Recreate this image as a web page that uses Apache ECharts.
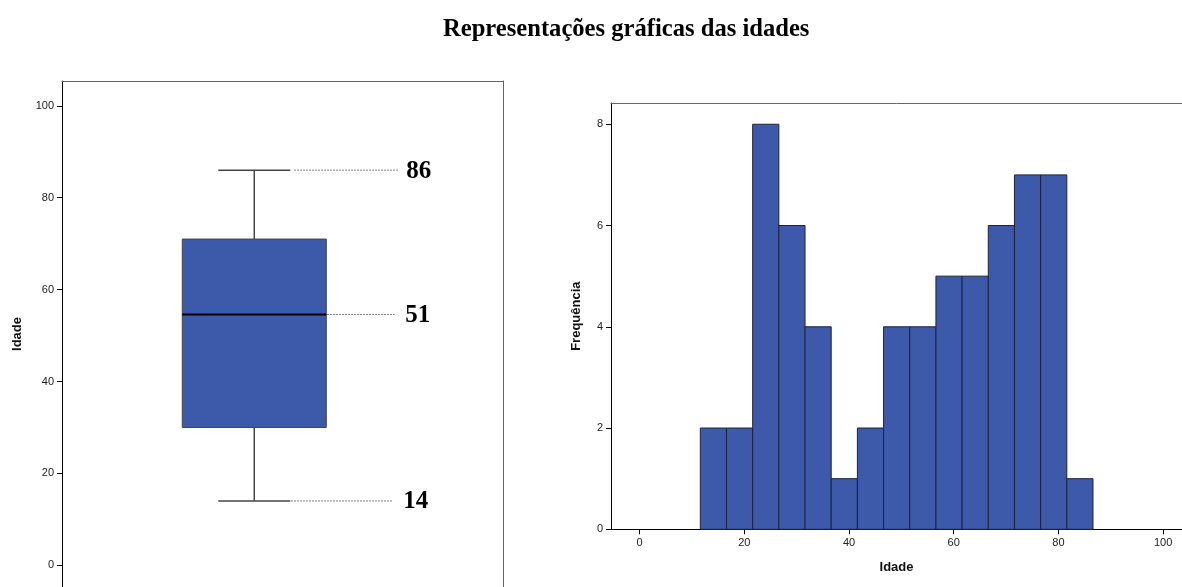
<!DOCTYPE html>
<html>
<head>
<meta charset="utf-8">
<script src="https://cdn.jsdelivr.net/npm/echarts@6/dist/echarts.min.js"></script>
<style>html,body{margin:0;padding:0;background:#fff}#c{width:1182px;height:587px}</style>
</head>
<body>
<div id="c"></div>
<script>
// ---- data ----
const titleText = 'Representações gráficas das idades';
// boxplot: min, Q1, median, Q3, max (as drawn)
const boxStats = [14, 30, 54.6, 71, 86];
const boxLabels = ['86', '51', '14'];
const boxTicks = [0, 20, 40, 60, 80, 100];
// histogram bins
const binStarts = [11.6, 16.6, 21.6, 26.6, 31.6, 36.6, 41.6, 46.6, 51.6, 56.6, 61.6, 66.6, 71.6, 76.6, 81.6];
const binEnds   = [16.6, 21.6, 26.6, 31.6, 36.6, 41.6, 46.6, 51.6, 56.6, 61.6, 66.6, 71.6, 76.6, 81.6, 86.6];
const freqs     = [2, 2, 8, 6, 4, 1, 2, 4, 4, 5, 5, 6, 7, 7, 1];
const histXTicks = [0, 20, 40, 60, 80, 100];
const histYTicks = [0, 2, 4, 6, 8];

const BLUE = '#3d59aa';
const histData = binStarts.map((s, i) => [s, binEnds[i], freqs[i]]);

const chart = echarts.init(document.getElementById('c'), null, {renderer: 'canvas'});
const tickLabel = {fontFamily: 'Liberation Sans, Arial', fontSize: 11, color: '#222'};
const nameStyle = {fontFamily: 'Liberation Sans, Arial', fontSize: 13, fontWeight: 'bold', color: '#111'};
const frameAxis = {axisLine: {show: true, onZero: false, lineStyle: {color: '#666', width: 1}},
                   axisTick: {show: false}, axisLabel: {show: false}, splitLine: {show: false}};

chart.setOption({
  animation: false,
  title: {
    text: titleText, left: 438, top: 12,
    textStyle: {fontFamily: 'Liberation Serif, Times New Roman', fontSize: 24.6, fontWeight: 'bold', color: '#000'}
  },
  grid: [
    {left: 62, top: 81, width: 441, height: 506},
    {left: 611, top: 103, width: 571, height: 426.3}
  ],
  xAxis: [
    Object.assign({gridIndex: 0, type: 'value', min: 0, max: 1, position: 'top'}, frameAxis),
    {gridIndex: 1, type: 'value', min: -5.46, max: 103.6,
     name: 'Idade', nameLocation: 'middle', nameGap: 32, nameTextStyle: nameStyle,
     axisLine: {show: true, onZero: false, lineStyle: {color: '#000', width: 1}},
     axisTick: {show: true, length: 5, customValues: histXTicks, lineStyle: {color: '#000'}},
     axisLabel: Object.assign({customValues: histXTicks, margin: 8}, tickLabel),
     splitLine: {show: false}},
    Object.assign({gridIndex: 1, type: 'value', min: -5.46, max: 103.6, position: 'top'}, frameAxis)
  ],
  yAxis: [
    {gridIndex: 0, type: 'value', min: -4.72, max: 105.4,
     name: 'Idade', nameLocation: 'middle', nameGap: 38, nameRotate: 90, nameTextStyle: nameStyle,
     axisLine: {show: true, onZero: false, lineStyle: {color: '#000', width: 1}},
     axisTick: {show: true, length: 5, customValues: boxTicks, lineStyle: {color: '#000'}},
     axisLabel: Object.assign({customValues: boxTicks, margin: 8}, tickLabel),
     splitLine: {show: false}},
    {gridIndex: 1, type: 'value', min: 0, max: 8.42,
     name: 'Frequência', nameLocation: 'middle', nameGap: 28, nameRotate: 90, nameTextStyle: nameStyle,
     axisLine: {show: true, onZero: false, lineStyle: {color: '#000', width: 1}},
     axisTick: {show: true, length: 5, customValues: histYTicks, lineStyle: {color: '#000'}},
     axisLabel: Object.assign({customValues: histYTicks, margin: 8}, tickLabel),
     splitLine: {show: false}},
    Object.assign({gridIndex: 0, type: 'value', min: -4.72, max: 105.4, position: 'right'}, frameAxis)
  ],
  series: [
    {
      type: 'custom', xAxisIndex: 0, yAxisIndex: 0,
      data: [boxStats],
      renderItem: function (params, api) {
        const cxv = 0.436;
        const cx = api.coord([cxv, 0])[0];
        const y = v => api.coord([cxv, v])[1];
        const yMin = y(api.value(0)), yQ1 = y(api.value(1)), yMed = y(api.value(2)),
              yQ3 = y(api.value(3)), yMax = y(api.value(4));
        const hw = 72, cw = 36;
        const wStyle = {stroke: '#444', lineWidth: 1.5};
        const dStyle = {stroke: '#555', lineWidth: 1, lineDash: [1.5, 1.5]};
        const lab = {fontFamily: 'Liberation Serif, Times New Roman', fontSize: 25, fontWeight: 'bold', fill: '#000', verticalAlign: 'middle', align: 'left'};
        return {
          type: 'group',
          children: [
            {type: 'line', shape: {x1: cx, y1: yMax, x2: cx, y2: yQ3}, style: wStyle},
            {type: 'line', shape: {x1: cx, y1: yQ1, x2: cx, y2: yMin}, style: wStyle},
            {type: 'line', shape: {x1: cx - cw, y1: yMax, x2: cx + cw, y2: yMax}, style: wStyle},
            {type: 'line', shape: {x1: cx - cw, y1: yMin, x2: cx + cw, y2: yMin}, style: wStyle},
            {type: 'rect', shape: {x: cx - hw, y: yQ3, width: 2 * hw, height: yQ1 - yQ3}, style: {fill: BLUE, stroke: '#444', lineWidth: 1}},
            {type: 'line', shape: {x1: cx - hw, y1: yMed, x2: cx + hw, y2: yMed}, style: {stroke: '#000', lineWidth: 2}},
            {type: 'line', shape: {x1: cx + cw + 4, y1: yMax, x2: cx + 144, y2: yMax}, style: dStyle},
            {type: 'line', shape: {x1: cx + hw + 1, y1: yMed, x2: cx + 140, y2: yMed}, style: dStyle},
            {type: 'line', shape: {x1: cx + cw + 1, y1: yMin, x2: cx + 138, y2: yMin}, style: dStyle},
            {type: 'text', x: cx + 152, y: yMax + 1, style: Object.assign({text: boxLabels[0]}, lab)},
            {type: 'text', x: cx + 151, y: yMed + 1, style: Object.assign({text: boxLabels[1]}, lab)},
            {type: 'text', x: cx + 149, y: yMin + 1, style: Object.assign({text: boxLabels[2]}, lab)}
          ]
        };
      }
    },
    {
      type: 'custom', xAxisIndex: 1, yAxisIndex: 1,
      data: histData,
      encode: {x: [0, 1], y: 2},
      renderItem: function (params, api) {
        const p0 = api.coord([api.value(0), api.value(2)]);
        const p1 = api.coord([api.value(1), 0]);
        return {
          type: 'rect',
          shape: {x: p0[0], y: p0[1], width: p1[0] - p0[0], height: p1[1] - p0[1]},
          style: {fill: BLUE, stroke: '#1d2438', lineWidth: 1}
        };
      }
    }
  ]
});
</script>
</body>
</html>
